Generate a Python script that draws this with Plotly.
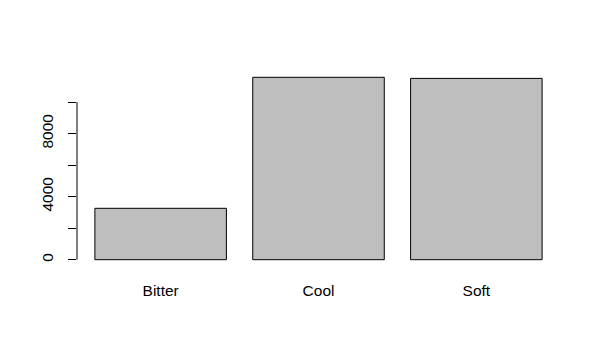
import plotly.graph_objects as go

categories = ["Bitter", "Cool", "Soft"]
values = [3260, 11570, 11500]
y_tick_vals = [0, 2000, 4000, 6000, 8000, 10000]
y_tick_text = ["0", "", "4000", "", "8000", ""]

# R barplot layout: width 1, space 0.2
bar_centers = [0.7, 1.9, 3.1]

fig = go.Figure()
fig.add_trace(go.Bar(
    x=bar_centers, y=values, width=1.0,
    marker=dict(color="#BEBEBE", line=dict(color="black", width=1)),
    hoverinfo="skip",
))

ymax = max(values)
pad = 0.04 * ymax
fig.update_layout(
    width=600, height=358,
    margin=dict(l=77, r=40, t=70, b=91, autoexpand=False),
    paper_bgcolor="white", plot_bgcolor="white",
    font=dict(family="Liberation Sans, Arial, sans-serif", size=15.5, color="black"),
    showlegend=False,
    xaxis=dict(
        range=[0.064, 3.736], tickvals=bar_centers, ticktext=categories,
        showgrid=False, zeroline=False, showline=False, ticks="",
        ticklabelstandoff=12, fixedrange=True, automargin=False,
    ),
    yaxis=dict(
        range=[-pad, ymax + pad], tickvals=y_tick_vals, ticktext=y_tick_text,
        showgrid=False, zeroline=False, showline=False,
        ticks="outside", ticklen=8, tickwidth=1, tickcolor="black",
        tickangle=-90, ticklabelstandoff=9, fixedrange=True, automargin=False,
    ),
)
# y axis line spanning only the tick range (as in R)
fig.add_shape(type="line", xref="paper", yref="y", x0=0, x1=0,
              y0=y_tick_vals[0], y1=y_tick_vals[-1],
              line=dict(color="black", width=1))

fig.write_html("out.html", config={"displayModeBar": False},
               post_script="document.body.style.margin='0';")
